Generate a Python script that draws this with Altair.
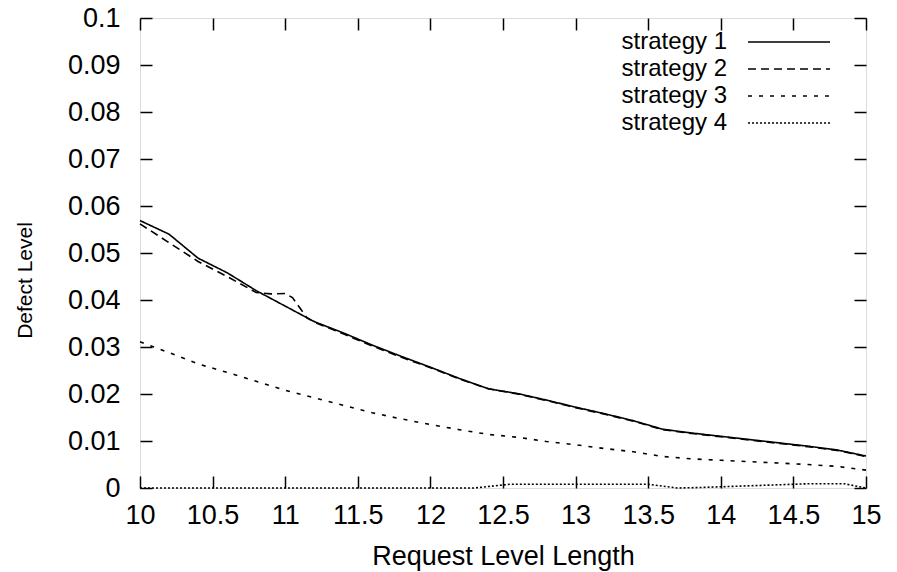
import altair as alt
import pandas as pd

# ---- data ----
series_names = ["strategy 1", "strategy 2", "strategy 3", "strategy 4"]

s1_x = [10.0, 10.2, 10.4, 10.6, 10.8, 11.0, 11.2, 11.4, 11.6, 11.8, 12.0, 12.2, 12.4,
        12.6, 12.8, 13.0, 13.2, 13.4, 13.6, 13.8, 14.0, 14.2, 14.4, 14.6, 14.8, 15.0]
s1_y = [0.0569, 0.0540, 0.0489, 0.0458, 0.0420, 0.0387, 0.0354, 0.0330, 0.0304, 0.0280,
        0.0257, 0.0233, 0.0211, 0.0201, 0.0187, 0.0172, 0.0158, 0.0143, 0.0125, 0.0117,
        0.0110, 0.0103, 0.0096, 0.0089, 0.0081, 0.0068]

s2_x = [10.0, 10.2, 10.4, 10.6, 10.8, 10.9, 11.0, 11.05, 11.15, 11.2, 11.4, 11.6, 11.8,
        12.0, 12.2, 12.4, 12.6, 12.8, 13.0, 13.2, 13.4, 13.6, 13.8, 14.0, 14.2, 14.4,
        14.6, 14.8, 15.0]
s2_y = [0.0562, 0.0522, 0.0482, 0.0450, 0.0416, 0.0413, 0.0414, 0.0405, 0.0362, 0.0353,
        0.0328, 0.0302, 0.0278, 0.0256, 0.0232, 0.0211, 0.0200, 0.0186, 0.0171, 0.0157,
        0.0142, 0.0124, 0.0116, 0.0109, 0.0102, 0.0095, 0.0088, 0.0080, 0.0067]

s3_x = [10.0, 10.2, 10.4, 10.6, 10.8, 11.0, 11.2, 11.4, 11.6, 11.8, 12.0, 12.2, 12.4,
        12.6, 12.8, 13.0, 13.2, 13.4, 13.6, 13.8, 14.0, 14.2, 14.4, 14.6, 14.8, 15.0]
s3_y = [0.0311, 0.0288, 0.0264, 0.0246, 0.0227, 0.0208, 0.0192, 0.0176, 0.0160, 0.0147,
        0.0135, 0.0124, 0.0114, 0.0108, 0.0099, 0.0092, 0.0084, 0.0077, 0.0067, 0.0062,
        0.0059, 0.0056, 0.0053, 0.0050, 0.0046, 0.0038]

s4_x = [10.0, 12.3, 12.55, 13.5, 13.7, 13.85, 14.6, 14.85, 15.0]
s4_y = [0.0, 0.0, 0.0008, 0.0008, 0.0, 0.0001, 0.0009, 0.0009, 0.0]

x_ticks = [10, 10.5, 11, 11.5, 12, 12.5, 13, 13.5, 14, 14.5, 15]
y_ticks = [0, 0.01, 0.02, 0.03, 0.04, 0.05, 0.06, 0.07, 0.08, 0.09, 0.1]

dash_styles = [[1, 0], [8, 5], [4, 7], [2, 2]]

rows = []
for name, xs, ys in zip(series_names, [s1_x, s2_x, s3_x, s4_x], [s1_y, s2_y, s3_y, s4_y]):
    for xv, yv in zip(xs, ys):
        rows.append({"x": xv, "y": yv, "series": name})
df = pd.DataFrame(rows)

FONT = "Liberation Sans"
TICK = 12

x_scale = alt.Scale(domain=[10, 15], nice=False, zero=False)
y_scale = alt.Scale(domain=[0, 0.1], nice=False)
dash_scale = alt.Scale(domain=series_names, range=dash_styles)

base = alt.Chart(df)

lines = base.mark_line(color="black", strokeWidth=1.6).encode(
    x=alt.X("x:Q", scale=x_scale,
            axis=alt.Axis(orient="bottom", values=x_ticks, format="~g", offset=-TICK,
                          tickSize=TICK, domain=False, grid=False, labelPadding=14,
                          title="Request Level Length", titlePadding=15,
                          labelFontSize=27, titleFontSize=27, titleFontWeight="normal",
                          labelFont=FONT, titleFont=FONT, labelColor="black",
                          titleColor="black", tickColor="black", tickWidth=1.5,
                          labelFlush=False)),
    y=alt.Y("y:Q", scale=y_scale,
            axis=alt.Axis(orient="left", values=y_ticks, format="~g", offset=-TICK,
                          tickSize=TICK, domain=False, grid=False, labelPadding=20,
                          title="Defect Level", titlePadding=32, titleY=262,
                          labelFontSize=27, titleFontSize=21, titleFontWeight="normal",
                          labelFont=FONT, titleFont=FONT, labelColor="black",
                          titleColor="black", tickColor="black", tickWidth=1.5,
                          labelFlush=False)),
    strokeDash=alt.StrokeDash("series:N", scale=dash_scale, legend=None),
    detail="series:N",
)

mirror = base.mark_line(strokeOpacity=0).encode(
    x=alt.X("x:Q", scale=x_scale,
            axis=alt.Axis(orient="top", values=x_ticks, offset=-TICK, tickSize=TICK,
                          domain=False, grid=False, labels=False, title=None,
                          tickColor="black", tickWidth=1.5)),
    y=alt.Y("y:Q", scale=y_scale,
            axis=alt.Axis(orient="right", values=y_ticks, offset=-TICK, tickSize=TICK,
                          domain=False, grid=False, labels=False, title=None,
                          tickColor="black", tickWidth=1.5)),
    detail="series:N",
)

legend_layers = []
legend_row_y = [24, 51, 78, 105]
for name, dash, ry in zip(series_names, dash_styles, legend_row_y):
    ldf = pd.DataFrame({"label": [name]})
    txt = alt.Chart(ldf).mark_text(align="right", baseline="middle", fontSize=24,
                                   font=FONT, color="black").encode(
        text="label:N", x=alt.value(587), y=alt.value(ry))
    smp = alt.Chart(ldf).mark_rule(color="black", strokeWidth=1.6, strokeDash=dash).encode(
        x=alt.value(608), x2=alt.value(690), y=alt.value(ry))
    legend_layers += [txt, smp]

chart = alt.layer(lines, mirror, *legend_layers).resolve_axis(
    x="independent", y="independent"
).properties(
    width=726, height=470,
    autosize=alt.AutoSizeParams(type="none"),
    padding={"left": 140, "top": 18, "right": 31, "bottom": 84},
).configure_view(stroke="black", strokeWidth=1.5).configure(background="white")

chart.save("out.html", embed_options={"renderer": "svg", "actions": False})
